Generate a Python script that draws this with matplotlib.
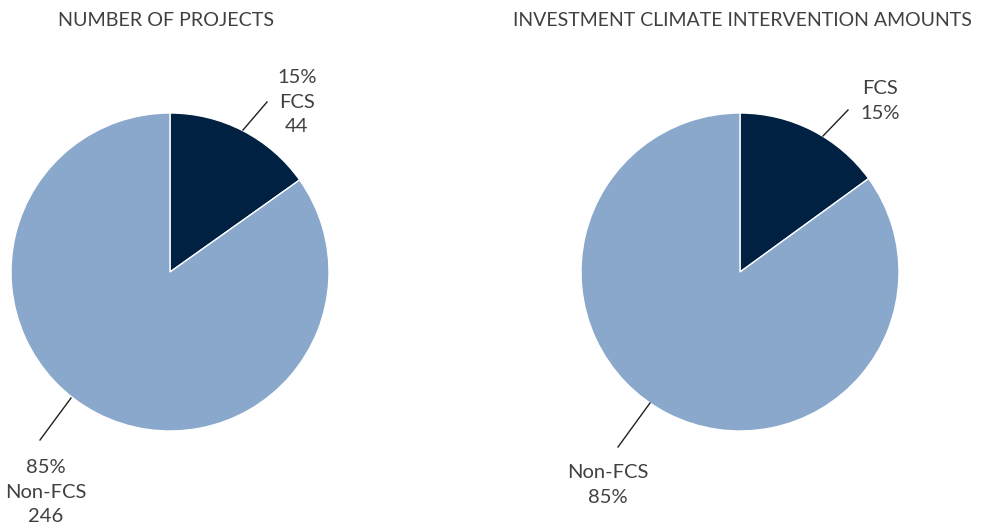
import matplotlib
matplotlib.use("Agg")
import matplotlib.pyplot as plt

plt.rcParams['font.family'] = ['Lato', 'DejaVu Sans']

categories = ["FCS", "Non-FCS"]
projects_counts = [44, 246]
projects_pct = ["15%", "85%"]
amount_pct_values = [15, 85]
amount_pct = ["15%", "85%"]
titles = ["NUMBER OF PROJECTS", "INVESTMENT CLIMATE INTERVENTION AMOUNTS"]
colors = ["#002142", "#8aa8cc"]
text_color = "#404040"

W, H = 986, 527
fig = plt.figure(figsize=(W / 100, H / 100), dpi=100)
ax = fig.add_axes([0, 0, 1, 1])
ax.set_xlim(0, W)
ax.set_ylim(0, H)
ax.set_aspect('equal')
ax.axis('off')

def Y(y):
    return H - y

R = 159
# Left pie
ax.pie(projects_counts, colors=colors, center=(170, Y(272)), radius=R,
       startangle=90, counterclock=False,
       wedgeprops=dict(edgecolor='white', linewidth=1))
# Right pie
ax.pie(amount_pct_values, colors=colors, center=(740, Y(272)), radius=R,
       startangle=90, counterclock=False,
       wedgeprops=dict(edgecolor='white', linewidth=1))
ax.set_xlim(0, W)
ax.set_ylim(0, H)

tkw = dict(color=text_color, fontsize=14.5, ha='center', va='center', linespacing=1.55)
lkw = dict(color='#202020', lw=1)

# Titles
ax.text(166, Y(21), titles[0], color=text_color, fontsize=14.2, ha='center', va='center')
ax.text(742, Y(21), titles[1], color=text_color, fontsize=14, ha='center', va='center')

# Left labels
ax.plot([243, 267], [Y(130), Y(102)], **lkw)
ax.text(297, Y(102), f"{projects_pct[0]}\n{categories[0]}\n{projects_counts[0]}", **tkw)
ax.plot([71, 40], [Y(398), Y(440)], **lkw)
ax.text(46, Y(492), f"{projects_pct[1]}\n{categories[1]}\n{projects_counts[1]}", **tkw)

# Right labels
ax.plot([823, 848], [Y(136), Y(110)], **lkw)
ax.text(880, Y(101), f"{categories[0]}\n{amount_pct[0]}", **tkw)
ax.plot([650, 618], [Y(403), Y(447)], **lkw)
ax.text(608, Y(485), f"{categories[1]}\n{amount_pct[1]}", **tkw)

fig.savefig("out.png", dpi=100)
